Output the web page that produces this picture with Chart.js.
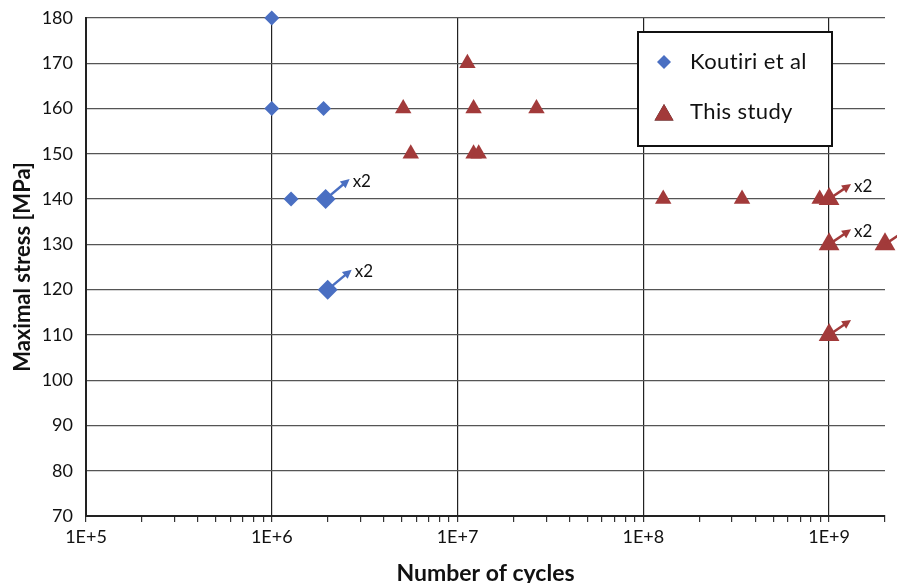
<html>
<head>
<style>
  body { margin: 0; background: #fff; }
  #wrap { position: relative; width: 897px; height: 583px; }
</style>
</head>
<body>
<div id="wrap"><canvas id="sn"></canvas></div>
<script src="https://cdn.jsdelivr.net/npm/chart.js@4.4.1/dist/chart.umd.min.js"></script>
<script>
// Koutiri et al (blue diamonds)
var koutiriCycles = [1e6, 1e6, 1.9e6, 1.27e6, 1.95e6, 2e6];
var koutiriStress = [180, 160, 160, 140, 140, 120];
var koutiriRunout = ['', '', '', '', 'x2', 'x2'];
var koutiriIsRunout = [false, false, false, false, true, true];

// This study (red triangles)
var studyCycles = [1.13e7, 5.1e6, 1.22e7, 2.66e7, 5.6e6, 1.22e7, 1.3e7, 1.28e8, 3.4e8, 8.9e8, 1e9, 1e9, 2e9, 1e9];
var studyStress = [170, 160, 160, 160, 150, 150, 150, 140, 140, 140, 140, 130, 130, 110];
var studyRunout = ['', '', '', '', '', '', '', '', '', '', 'x2', 'x2', '', ''];
var studyIsRunout = [false, false, false, false, false, false, false, false, false, false, true, true, true, true];

var xMin = 1e5, xMax = 2e9;
var yMin = 70, yMax = 180, yStep = 10;

var BLUE = '#4a6fc2';
var RED = '#a23a3a';
var FONT = 'Lato, "Open Sans", sans-serif';

function toPoints(xs, ys) {
    return xs.map(function (x, i) { return {x: x, y: ys[i]}; });
}
function isDecade(v) {
    var l = Math.log10(v);
    return Math.abs(l - Math.round(l)) < 1e-9;
}

// runout arrows + "x2" labels, positioned from the data through the scales
var runoutArrows = {
    id: 'runoutArrows',
    afterDatasetsDraw: function (chart) {
        var ctx = chart.ctx;
        var xs = chart.scales.x, ys = chart.scales.y;
        chart.data.datasets.forEach(function (ds) {
            ds.runout.forEach(function (flag, i) {
                if (!flag) return;
                var p = ds.data[i];
                var px = xs.getPixelForValue(p.x), py = ys.getPixelForValue(p.y);
                var tx = px + ds.arrowDx, ty = py + ds.arrowDy;
                var ang = Math.atan2(ty - py, tx - px);
                ctx.save();
                ctx.strokeStyle = ds.backgroundColor;
                ctx.fillStyle = ds.backgroundColor;
                ctx.lineWidth = 2.5;
                ctx.beginPath();
                ctx.moveTo(px, py);
                ctx.lineTo(tx - 5 * Math.cos(ang), ty - 5 * Math.sin(ang));
                ctx.stroke();
                ctx.beginPath();
                ctx.moveTo(tx, ty);
                ctx.lineTo(tx - 9 * Math.cos(ang) + 4.5 * Math.sin(ang), ty - 9 * Math.sin(ang) - 4.5 * Math.cos(ang));
                ctx.lineTo(tx - 9 * Math.cos(ang) - 4.5 * Math.sin(ang), ty - 9 * Math.sin(ang) + 4.5 * Math.cos(ang));
                ctx.closePath();
                ctx.fill();
                if (ds.runoutLabels[i]) {
                    ctx.fillStyle = '#111';
                    ctx.font = '17px ' + FONT;
                    ctx.textBaseline = 'middle';
                    ctx.textAlign = 'left';
                    ctx.fillText(ds.runoutLabels[i], tx + 3, ty + 2);
                }
                ctx.restore();
            });
        });
    }
};

// legend box inside the plot, top right
var boxLegend = {
    id: 'boxLegend',
    afterDraw: function (chart) {
        var ctx = chart.ctx;
        var bx = 638, by = 32, bw = 194, bh = 114;
        ctx.save();
        ctx.fillStyle = '#fff';
        ctx.fillRect(bx, by, bw, bh);
        ctx.strokeStyle = '#111';
        ctx.lineWidth = 2;
        ctx.strokeRect(bx, by, bw, bh);
        chart.data.datasets.forEach(function (ds, i) {
            var cy = by + 30 + i * 50;
            Chart.helpers.drawPoint(ctx, {
                pointStyle: ds.pointStyle,
                radius: ds.legendRadius,
                rotation: 0,
                borderWidth: 0
            }, bx + 26, cy + (ds.pointStyle === 'triangle' ? 3 : 0));
            ctx.fillStyle = ds.backgroundColor;
            ctx.fill();
            ctx.fillStyle = '#111';
            ctx.font = '22px ' + FONT;
            ctx.letterSpacing = '0.4px';
            ctx.textBaseline = 'middle';
            ctx.textAlign = 'left';
            ctx.fillText(ds.label, bx + 52, cy);
        });
        ctx.restore();
    }
};

var data = {
    datasets: [{
        label: 'Koutiri et al',
        data: toPoints(koutiriCycles, koutiriStress),
        runout: koutiriIsRunout,
        runoutLabels: koutiriRunout,
        arrowDx: 24, arrowDy: -20,
        pointStyle: 'rectRot',
        backgroundColor: BLUE,
        borderColor: BLUE,
        borderWidth: 0,
        pointRadius: koutiriIsRunout.map(function (r) { return r ? 10 : 7.5; }),
        legendRadius: 7,
        clip: false
    }, {
        label: 'This study',
        data: toPoints(studyCycles, studyStress),
        runout: studyIsRunout,
        runoutLabels: studyRunout,
        arrowDx: 22, arrowDy: -15,
        pointStyle: 'triangle',
        backgroundColor: RED,
        borderColor: RED,
        borderWidth: 0,
        pointRadius: studyIsRunout.map(function (r) { return r ? 12 : 9.5; }),
        legendRadius: 11,
        clip: false
    }]
};

var options = {
    responsive: true,
    maintainAspectRatio: false,
    animation: false,
    events: [],
    layout: { padding: { top: 18, right: 12, left: 0, bottom: 0 } },
    plugins: {
        legend: { display: false },
        tooltip: { enabled: false }
    },
    scales: {
        x: {
            type: 'logarithmic',
            min: xMin,
            max: xMax,
            afterFit: function (s) { s.height = 67; },
            afterBuildTicks: function (s) {
                var t = [];
                for (var e = 5; e <= 9; e++) {
                    for (var m = 1; m <= 9; m++) {
                        var v = m * Math.pow(10, e);
                        if (v <= xMax) t.push({value: v, major: m === 1});
                    }
                }
                s.ticks = t;
            },
            ticks: {
                autoSkip: false,
                maxRotation: 0,
                padding: 4,
                color: '#111',
                font: { family: FONT, size: 18 },
                callback: function (v) {
                    return isDecade(v) ? '1E+' + Math.round(Math.log10(v)) : '';
                }
            },
            grid: {
                color: function (c) { return c.tick && isDecade(c.tick.value) ? '#222' : 'rgba(0,0,0,0)'; },
                tickColor: '#333',
                tickLength: 6,
                lineWidth: 1.2
            },
            border: { color: '#222', width: 2 },
            title: {
                display: true,
                text: 'Number of cycles',
                color: '#111',
                font: { family: FONT, size: 23, weight: 'bold', lineHeight: 0.8 },
                padding: { top: 0, bottom: 0 }
            }
        },
        y: {
            type: 'linear',
            min: yMin,
            max: yMax,
            afterFit: function (s) {
                s.width = 86;
                s.paddingTop = 0;
                s.paddingBottom = 0;
            },
            ticks: {
                stepSize: yStep,
                padding: 13,
                color: '#111',
                font: { family: FONT, size: 18 }
            },
            grid: {
                color: '#555',
                lineWidth: 1.2,
                drawTicks: false
            },
            border: { color: '#222', width: 2 },
            title: {
                display: true,
                text: 'Maximal stress [MPa]',
                color: '#111',
                font: { family: FONT, size: 22, weight: 'bold' },
                padding: { top: 10, bottom: 0 }
            }
        }
    }
};

var chart = new Chart(document.getElementById('sn').getContext('2d'), {
    type: 'scatter',
    data: data,
    options: options,
    plugins: [runoutArrows, boxLegend]
});
</script>
</body>
</html>
